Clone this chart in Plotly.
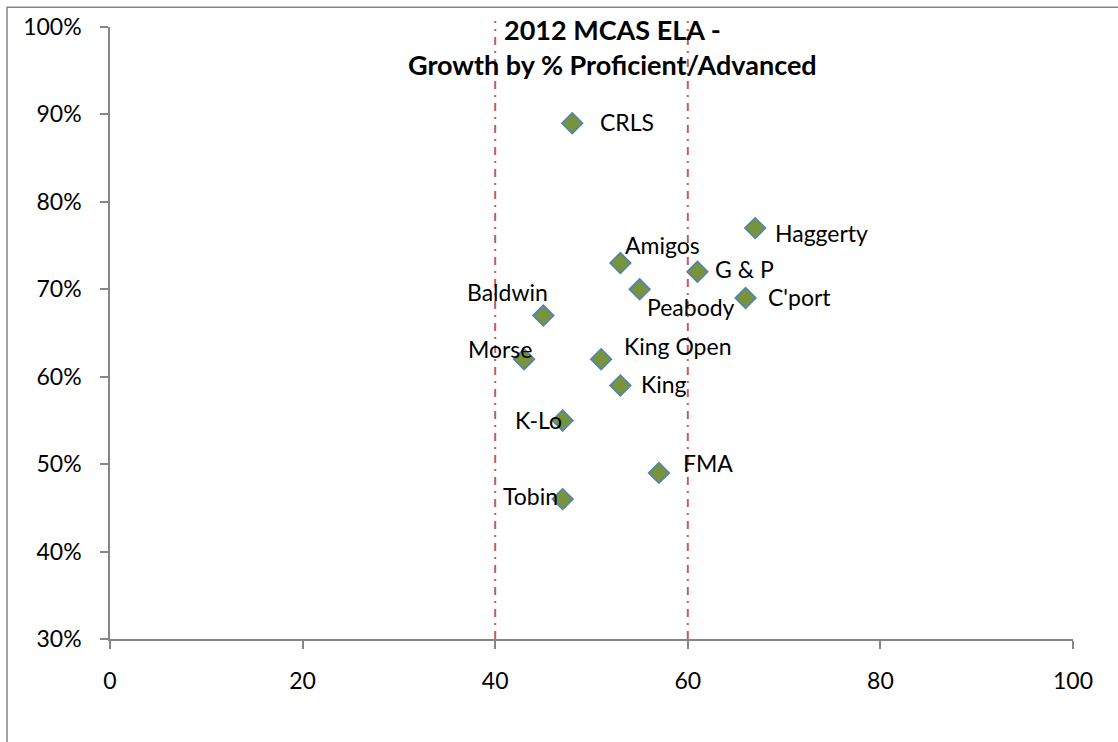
import plotly.graph_objects as go

schools = ["CRLS", "Haggerty", "Amigos", "G & P", "Peabody", "C'port", "Baldwin",
           "Morse", "King Open", "King", "K-Lo", "FMA", "Tobin"]
growth = [48, 67, 53, 61, 55, 66, 45, 43, 51, 53, 47, 57, 47]
proficient = [0.89, 0.77, 0.73, 0.72, 0.70, 0.69, 0.67, 0.62, 0.62, 0.59, 0.55, 0.49, 0.46]
threshold_x = [40, 60]
x_ticks = [0, 20, 40, 60, 80, 100]
y_ticks = [0.3, 0.4, 0.5, 0.6, 0.7, 0.8, 0.9, 1.0]

# label placement (style): anchor, x shift, y shift in px
label_style = {
    "CRLS": ("left", 26, 1),
    "Haggerty": ("left", 18, -5),
    "Amigos": ("left", 3, 18),
    "G & P": ("left", 16, 3),
    "Peabody": ("left", 5, -18),
    "C'port": ("left", 20, 1),
    "Baldwin": ("right", 7, 24),
    "Morse": ("right", 10, 10),
    "King Open": ("left", 21, 13),
    "King": ("left", 19, 1),
    "K-Lo": ("right", 1, 0),
    "FMA": ("left", 22, 10),
    "Tobin": ("right", -3, 3),
}

FONT = "Lato"
axis_color = "#868686"

fig = go.Figure()
fig.add_trace(go.Scatter(
    x=growth, y=proficient, mode="markers",
    marker=dict(symbol="diamond", size=16, color="#77933C",
                line=dict(color="#4F81BD", width=1.5)),
    hoverinfo="text", text=schools, showlegend=False,
))

for xv in threshold_x:
    fig.add_shape(type="line", xref="x", yref="paper", x0=xv, x1=xv, y0=0, y1=1.0097,
                  line=dict(color="#C85A58", width=2, dash="8px,6px,2px,6px"))

for name, xv, yv in zip(schools, growth, proficient):
    anchor, dx, dy = label_style[name]
    fig.add_annotation(
        x=xv, y=yv, xref="x", yref="y", text=name, showarrow=False,
        xanchor=anchor, yanchor="middle", xshift=dx, yshift=dy,
        font=dict(family=FONT, size=23, color="#000000"),
    )

fig.add_annotation(
    xref="paper", yref="paper", x=(612 - 110) / 963, y=(639 - 43) / 616,
    text="<b>2012 MCAS ELA -</b><br><b>Growth by % Proficient/Advanced</b>",
    showarrow=False, xanchor="center", yanchor="middle",
    font=dict(family=FONT, size=27, color="#000000"),
)

# outer chart border
fig.add_shape(type="rect", xref="paper", yref="paper",
              x0=(7 - 110) / 963, x1=1.2, y0=-0.5, y1=(639 - 3) / 616,
              line=dict(color=axis_color, width=1.5), fillcolor="rgba(0,0,0,0)")

fig.update_layout(
    width=1118, height=742,
    margin=dict(l=110, r=45, t=23, b=103),
    paper_bgcolor="white", plot_bgcolor="white",
    font=dict(family=FONT, size=23, color="#000000"),
    xaxis=dict(range=[0, 100], tickvals=x_ticks, showgrid=False, zeroline=False,
               showline=True, linecolor=axis_color, linewidth=1.5,
               ticks="outside", ticklen=8, tickcolor=axis_color, tickwidth=1.5,
               ticklabelstandoff=13, tickfont=dict(family=FONT, size=23)),
    yaxis=dict(range=[0.3, 1.0], tickvals=y_ticks, tickformat=".0%", showgrid=False,
               zeroline=False, showline=True, linecolor=axis_color, linewidth=1.5,
               ticks="outside", ticklen=8, tickcolor=axis_color, tickwidth=1.5,
               ticklabelstandoff=14, tickfont=dict(family=FONT, size=23)),
)

fig.write_html("out.html")
